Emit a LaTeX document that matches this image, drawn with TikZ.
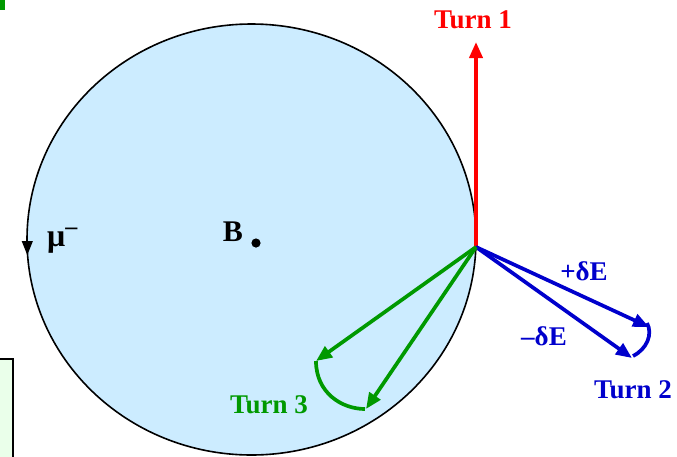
\documentclass[tikz,border=0pt]{standalone}
\usepackage{fontspec}
\setmainfont{Liberation Serif}
\usetikzlibrary{arrows.meta}
\definecolor{cfill}{RGB}{204,236,255}
\definecolor{bfill}{RGB}{234,255,234}
\definecolor{tred}{RGB}{255,0,0}
\definecolor{tblue}{RGB}{0,0,204}
\definecolor{tgreen}{RGB}{0,153,0}
\tikzset{
  lbl/.style={font=\fontsize{27}{30}\selectfont\bfseries, inner sep=0pt, anchor=base},
  vec/.style={line width=3.7pt, -{Triangle[length=16pt,width=13pt]}},
  arcline/.style={line width=3.7pt},
}
\begin{document}
\begin{tikzpicture}[x=1pt,y=-1pt]
\useasboundingbox (0,0) rectangle (677,456);
% corner marks
\fill[tgreen] (0,0) rectangle (5,10);
\draw[line width=1.6pt, fill=bfill] (-5,359) rectangle (13,470);
% circle
\draw[line width=1.6pt, fill=cfill] (251.5,239.5) ellipse [x radius=224.5, y radius=215.5];
\coordinate (P) at (476,247);
% direction arrow on circle
\coordinate (d1) at (27.3,234);
\coordinate (d2) at (27.3,255);
\draw[line width=1pt, -{Triangle[length=14pt,width=11pt]}] (d1) -- (d2);
% B field
\node[lbl, font=\fontsize{30}{32}\selectfont\bfseries] (B) at (233,241) {B};
\fill (256,243) circle (4.6);
\node[lbl, font=\fontsize{32}{34}\selectfont\bfseries, anchor=base west] (mu) at (47,246) {μ\raisebox{12pt}{\fontsize{24}{26}\selectfont\char"2013}};
% Turn 1
\coordinate (R) at (476,42);
\draw[vec, tred] (P) -- (R);
\node[lbl, text=tred] (t1) at (473,28) {Turn 1};
% Turn 2
\coordinate (B1) at (649,327);
\coordinate (B2) at (632,358);
\draw[vec, tblue] (P) -- (B1);
\draw[vec, tblue] (P) -- (B2);
\draw[arcline, tblue] (647,323) .. controls (653,334) and (647,349) .. (633,356);
\node[lbl, text=tblue] (pe) at (584,280) {+δE};
\node[lbl, text=tblue] (me) at (544,345) {\char"2013δE};
\node[lbl, text=tblue] (t2) at (633,398) {Turn 2};
% Turn 3
\coordinate (G1) at (316,361);
\coordinate (G2) at (366,409);
\draw[vec, tgreen] (P) -- (G1);
\draw[vec, tgreen] (P) -- (G2);
\draw[arcline, tgreen] (316,361) .. controls (316,393) and (342,409) .. (365,409);
\node[lbl, text=tgreen] (t3) at (269,413) {Turn 3};
\end{tikzpicture}
\end{document}
